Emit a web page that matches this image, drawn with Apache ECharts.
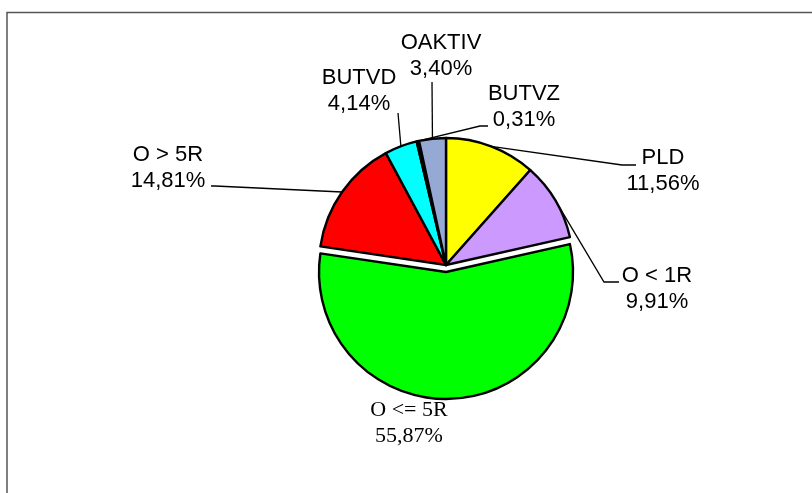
<!DOCTYPE html>
<html>
<head>
<meta charset="utf-8">
<script src="https://cdn.jsdelivr.net/npm/echarts@6/dist/echarts.min.js"></script>
<style>
html,body{margin:0;padding:0;background:#fff;}
#chart{width:812px;height:493px;}
</style>
</head>
<body>
<div id="chart"></div>
<script>
// ---- data ----
const categories = ['PLD', 'O < 1R', 'O <= 5R', 'O > 5R', 'BUTVD', 'BUTVZ', 'OAKTIV'];
const values = [11.56, 9.91, 55.87, 14.81, 4.14, 0.31, 3.40];
const colors = ['#FFFF00', '#CC99FF', '#00FF00', '#FF0000', '#00FFFF', '#FF8080', '#96A9D5'];
const explodedName = 'O <= 5R';

// ---- label layout (style, not data) ----
const labelCenters = [[663,171],[657,289],[409,423],[168,168],[359,91],[524,107],[441,56]];
// leader line: [elbow offset, end offset] relative to label center
const leader = [
  [[-41,-6],[-27,-6]],
  [[-53,-7],[-38,-7]],
  null,
  [[47,18],[43,18]],
  [[39,22],[39,22]],
  [[-44,19],[-36,19]],
  [[-9,26],[-9,26]]
];

const chart = echarts.init(document.getElementById('chart'), null, {renderer:'canvas'});

const fmt = v => v.toFixed(2).replace('.', ',') + '%';
const hiddenItem = (c, i) => ({
  name: c, value: values[i],
  itemStyle: { color: 'rgba(0,0,0,0)', borderWidth: 0 },
  label: { show: false }, labelLine: { show: false }
});

// series A: all slices except the exploded one
const dataA = categories.map((c, i) => c === explodedName ? hiddenItem(c, i) : {
  name: c, value: values[i], itemStyle: { color: colors[i] }
});
// series B: only the exploded slice
const dataB = categories.map((c, i) => c !== explodedName ? hiddenItem(c, i) : {
  name: c, value: values[i], itemStyle: { color: colors[i] },
  label: { fontFamily: '"Liberation Serif", "Times New Roman", serif', fontSize: 22, lineHeight: 26 },
  labelLine: { show: false }
});

const layoutFn = function (params) {
  const i = params.dataIndex;
  const c = labelCenters[i];
  const res = { x: c[0], y: c[1], align: 'center', verticalAlign: 'middle' };
  const L = leader[i];
  if (L && params.labelLinePoints) {
    const s = params.labelLinePoints[0];
    res.labelLinePoints = [
      [s[0], s[1]],
      [c[0] + L[0][0], c[1] + L[0][1]],
      [c[0] + L[1][0], c[1] + L[1][1]]
    ];
  }
  return res;
};

const base = {
  type: 'pie',
  radius: 127,
  startAngle: 90,
  clockwise: true,
  avoidLabelOverlap: false,
  emphasis: { disabled: true },
  itemStyle: { borderColor: '#000', borderWidth: 2.4 },
  label: {
    show: true,
    position: 'outside',
    formatter: p => p.name + '\n' + fmt(p.value),
    fontFamily: '"Liberation Sans", Arial, sans-serif',
    fontSize: 22,
    lineHeight: 26,
    color: '#000',
    align: 'center'
  },
  labelLine: {
    show: true,
    length: 10,
    length2: 10,
    lineStyle: { color: '#000', width: 1.3 }
  },
  labelLayout: layoutFn
};

chart.setOption({
  animation: false,
  backgroundColor: '#ffffff',
  graphic: [{
    type: 'rect',
    shape: { x: 7, y: 12.5, width: 1000, height: 1000 },
    style: { fill: 'none', stroke: '#555', lineWidth: 1.5 },
    silent: true
  }],
  series: [
    Object.assign({}, base, { name: 'A', center: [446, 265], data: dataA }),
    Object.assign({}, base, { name: 'B', center: [446, 272], data: dataB })
  ]
});
</script>
</body>
</html>
